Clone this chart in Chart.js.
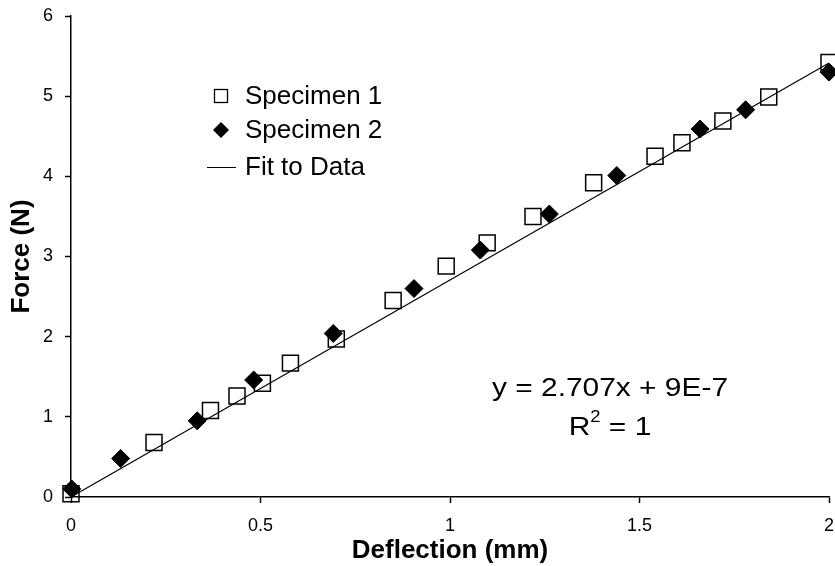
<!DOCTYPE html>
<html>
<head>
<meta charset="utf-8">
<script src="https://cdn.jsdelivr.net/npm/chart.js@4.4.1/dist/chart.umd.min.js"></script>
<style>
  body { margin: 0; background: #fff; }
  #wrap { width: 835px; height: 566px; }
</style>
</head>
<body>
<div id="wrap"><canvas id="forceChart" width="835" height="566"></canvas></div>
<script>
// Specimen 1 (open squares)
const spec1X = [0, 0.219, 0.368, 0.438, 0.505, 0.579, 0.70, 0.85, 0.99, 1.098, 1.219, 1.379, 1.541, 1.612, 1.72, 1.841, 2.0];
const spec1Y = [0.04, 0.68, 1.08, 1.26, 1.42, 1.67, 1.97, 2.45, 2.88, 3.17, 3.50, 3.92, 4.25, 4.42, 4.69, 4.99, 5.42];

// Specimen 2 (filled diamonds)
const spec2X = [0.002, 0.131, 0.333, 0.482, 0.692, 0.905, 1.08, 1.262, 1.44, 1.66, 1.78, 2.0];
const spec2Y = [0.10, 0.48, 0.95, 1.46, 2.04, 2.60, 3.08, 3.53, 4.01, 4.59, 4.83, 5.30];

// Linear fit y = slope*x + intercept
const fitSlope = 2.707;
const fitIntercept = 9e-7;
const fitX = [0, 2];

const xTicks = [0, 0.5, 1, 1.5, 2];
const yTicks = [0, 1, 2, 3, 4, 5, 6];

const FONT = "'Liberation Sans', Arial, sans-serif";

const toPoints = (xs, ys) => xs.map((x, i) => ({ x: x, y: ys[i] }));

// draw text stretched horizontally, centred on cx
function wideText(c, parts, cx, cy, stretch) {
  let total = 0;
  parts.forEach(p => { c.font = p.size + "px " + FONT; total += c.measureText(p.text).width; });
  c.save();
  c.translate(cx, cy);
  c.scale(stretch, 1);
  let x = -total / 2;
  parts.forEach(p => {
    c.font = p.size + "px " + FONT;
    c.fillText(p.text, x, p.dy || 0);
    x += c.measureText(p.text).width;
  });
  c.restore();
}

// Legend + equation drawn inside the plot area
const annotations = {
  id: "annotations",
  afterDraw(chart) {
    const c = chart.ctx;
    c.save();
    c.fillStyle = "#000";
    c.strokeStyle = "#000";

    // legend markers
    c.lineWidth = 1.3;
    c.strokeRect(214.5, 89.5, 13, 13);
    c.beginPath();
    c.moveTo(221, 122);
    c.lineTo(229, 130);
    c.lineTo(221, 138);
    c.lineTo(213, 130);
    c.closePath();
    c.fill();
    c.lineWidth = 1;
    c.beginPath();
    c.moveTo(207, 167.5);
    c.lineTo(236, 167.5);
    c.stroke();

    c.font = "26px " + FONT;
    c.textBaseline = "middle";
    c.textAlign = "left";
    c.fillText("Specimen 1", 245, 97);
    c.fillText("Specimen 2", 245, 131);
    c.fillText("Fit to Data", 245, 168);

    // regression equation
    wideText(c, [{ text: "y = 2.707x + 9E-7", size: 26 }], 610, 389, 1.15);
    wideText(c, [
      { text: "R", size: 26 },
      { text: "2", size: 16, dy: -10 },
      { text: " = 1", size: 26 }
    ], 610, 428, 1.15);
    c.restore();
  }
};

new Chart(document.getElementById("forceChart"), {
  type: "scatter",
  data: {
    datasets: [
      {
        label: "Fit to Data",
        data: fitX.map(x => ({ x: x, y: fitSlope * x + fitIntercept })),
        showLine: true,
        borderColor: "#000",
        borderWidth: 1.2,
        pointRadius: 0,
        fill: false,
        clip: false
      },
      {
        label: "Specimen 2",
        data: toPoints(spec2X, spec2Y),
        pointStyle: "rectRot",
        pointRadius: 9,
        pointBackgroundColor: "#000",
        pointBorderColor: "#000",
        pointBorderWidth: 1,
        clip: false
      },
      {
        label: "Specimen 1",
        data: toPoints(spec1X, spec1Y),
        pointStyle: "rect",
        pointRadius: 11.3,
        pointBackgroundColor: "rgba(255,255,255,0)",
        pointBorderColor: "#000",
        pointBorderWidth: 1.5,
        clip: false
      }
    ]
  },
  options: {
    responsive: false,
    animation: false,
    layout: { autoPadding: false, padding: { left: 0, right: 6, top: 16, bottom: 0 } },
    plugins: {
      legend: { display: false },
      tooltip: { enabled: false }
    },
    scales: {
      x: {
        type: "linear",
        min: 0,
        max: 2,
        afterFit: s => { s.height = 69; s.paddingLeft = 0; s.paddingRight = 0; },
        afterBuildTicks: s => { s.ticks = xTicks.map(v => ({ value: v })); },
        grid: { drawOnChartArea: false, drawTicks: true, tickLength: 6, tickColor: "#000", tickWidth: 1.5 },
        border: { color: "#000", width: 1.5 },
        ticks: { color: "#000", padding: 12, font: { family: FONT, size: 18 }, maxRotation: 0, callback: v => String(v) },
        title: {
          display: true,
          text: "Deflection (mm)",
          color: "#000",
          padding: { top: 0, bottom: 0 },
          font: { family: FONT, size: 26, weight: "bold", lineHeight: 1.2 }
        }
      },
      y: {
        type: "linear",
        min: 0,
        max: 6,
        afterFit: s => { s.width = 71; s.paddingTop = 0; s.paddingBottom = 0; },
        afterBuildTicks: s => { s.ticks = yTicks.map(v => ({ value: v })); },
        grid: { drawOnChartArea: false, drawTicks: true, tickLength: 6, tickColor: "#000", tickWidth: 1.5 },
        border: { color: "#000", width: 1.5 },
        ticks: { color: "#000", padding: 12, font: { family: FONT, size: 18 }, callback: v => String(v) },
        title: {
          display: true,
          text: "Force (N)",
          color: "#000",
          padding: { top: 6, bottom: 0 },
          font: { family: FONT, size: 26, weight: "bold", lineHeight: 1.2 }
        }
      }
    }
  },
  plugins: [annotations]
});
</script>
</body>
</html>
